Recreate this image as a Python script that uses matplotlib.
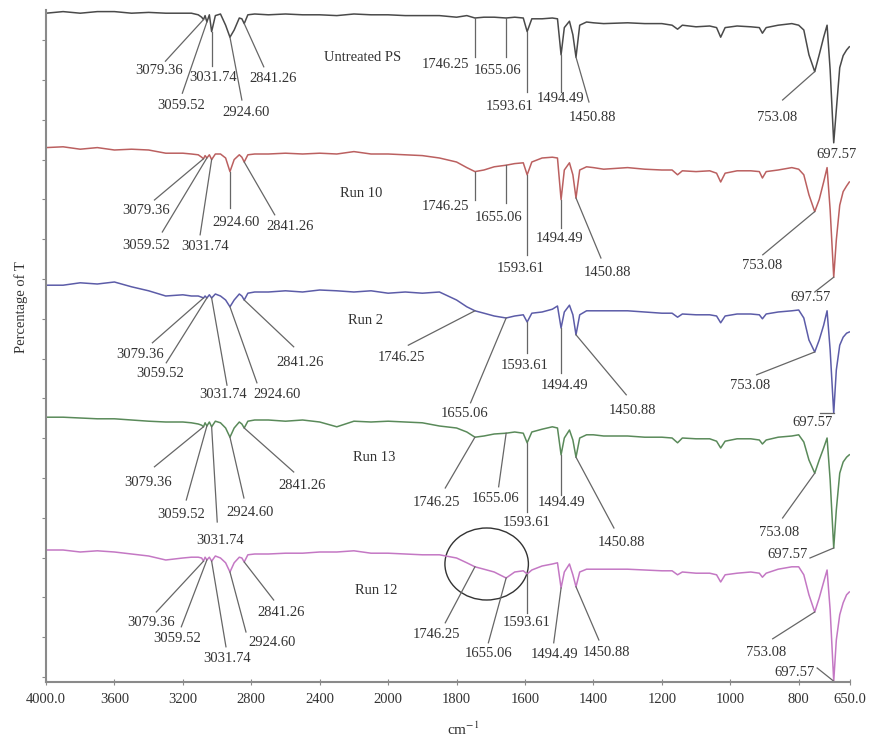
import matplotlib.pyplot as plt
import numpy as np
from matplotlib.patches import Ellipse

plt.rcParams['font.family'] = ['Liberation Serif', 'DejaVu Serif']
plt.rcParams['mathtext.fontset'] = 'stix'

# wavenumber grid (cm-1) shared by all spectra
wavenumber = [4000, 3900, 3800, 3700, 3600, 3500, 3400, 3300, 3200, 3150,
              3110, 3090, 3079.36, 3070, 3059.52, 3045, 3031.74, 3010, 2980, 2950,
              2924.6, 2900, 2870, 2855, 2841.26, 2820, 2780, 2700, 2600, 2500,
              2400, 2300, 2200, 2100, 2000, 1950, 1900, 1850, 1800, 1770,
              1746.25, 1720, 1690, 1655.06, 1630, 1605, 1593.61, 1580, 1550, 1520,
              1505, 1494.49, 1485, 1470, 1460, 1450.88, 1440, 1420, 1400, 1370,
              1300, 1250, 1200, 1170, 1154, 1140, 1100, 1060, 1040, 1028,
              1015, 980, 940, 915, 906, 895, 860, 820, 800, 785,
              770, 753.08, 740, 727, 717, 708, 697.57, 690, 680, 670,
              660, 652]

# stacked transmittance traces (offset per sample)
untreated = [83.6, 83.8, 83.6, 83.8, 83.8, 83.6, 83.7, 83.6, 83.6, 83.6,
             83.4, 83.1, 82.8, 83.3, 82.5, 83.4, 81.3, 83.3, 83.5, 82.1,
             80.6, 81.5, 83.0, 82.9, 82.3, 83.4, 83.5, 83.4, 83.5, 83.4,
             83.4, 83.3, 83.5, 83.4, 83.4, 83.3, 83.3, 83.3, 83.1, 83.3,
             83.0, 83.1, 83.1, 83.0, 83.1, 83.0, 81.3, 82.9, 82.9, 83.0,
             82.9, 78.4, 81.8, 82.6, 80.9, 78.1, 82.1, 82.5, 82.4, 82.3,
             82.4, 82.3, 82.3, 82.1, 81.6, 82.1, 81.9, 82.0, 81.8, 80.6,
             81.8, 82.0, 81.9, 81.8, 81.1, 81.8, 82.1, 82.3, 82.1, 81.5,
             78.4, 76.3, 78.4, 80.6, 82.1, 76.5, 67.4, 71.5, 76.8, 78.3,
             79.0, 79.4]
run10 = [66.8, 66.9, 66.6, 66.8, 66.5, 66.6, 66.5, 66.1, 66.1, 66.0,
         65.9, 65.6, 65.4, 65.8, 65.5, 65.9, 65.3, 66.0, 66.0, 65.5,
         63.8, 65.3, 65.9, 65.6, 65.0, 65.9, 66.0, 66.0, 66.1, 66.0,
         66.1, 66.0, 66.3, 66.0, 66.0, 65.9, 65.8, 65.5, 65.0, 64.3,
         63.8, 64.0, 64.4, 64.6, 64.8, 64.9, 63.4, 65.0, 65.5, 65.6,
         65.5, 60.3, 64.0, 64.9, 63.4, 60.5, 64.0, 64.4, 64.3, 64.1,
         64.3, 64.1, 64.0, 64.0, 63.4, 63.9, 63.8, 63.9, 63.6, 62.5,
         63.6, 63.9, 63.9, 63.8, 63.0, 63.8, 64.0, 64.3, 64.1, 63.4,
         60.9, 58.8, 60.3, 62.5, 64.3, 59.0, 50.6, 55.25, 59.6, 61.3,
         62.0, 62.5]
run2 = [49.6, 49.6, 49.9, 49.75, 50.0, 49.4, 48.9, 48.25, 48.4, 48.25,
        48.25, 48.1, 48.0, 48.25, 48.0, 48.4, 48.0, 48.5, 48.25, 47.75,
        46.9, 47.75, 48.5, 48.25, 47.75, 48.6, 48.75, 48.75, 48.9, 48.75,
        49.0, 48.9, 48.75, 48.9, 48.6, 48.75, 48.6, 48.75, 47.75, 46.9,
        46.4, 46.1, 45.75, 45.5, 45.75, 45.9, 45.0, 46.1, 46.25, 46.6,
        47.0, 44.25, 46.25, 47.1, 45.9, 43.4, 45.9, 46.4, 46.4, 46.4,
        46.4, 46.25, 46.1, 46.1, 45.6, 46.0, 45.9, 45.9, 45.75, 44.9,
        45.75, 46.0, 46.0, 45.9, 45.4, 46.0, 46.25, 46.4, 46.5, 45.5,
        42.75, 41.25, 42.75, 44.6, 46.4, 41.5, 33.6, 39.0, 42.1, 43.1,
        43.6, 43.75]
run13 = [33.1, 33.1, 33.0, 32.9, 32.9, 32.75, 32.6, 32.5, 32.5, 32.4,
         32.25, 32.1, 31.9, 32.4, 32.0, 32.5, 31.9, 32.6, 32.4, 31.75,
         30.6, 31.75, 32.5, 32.25, 31.75, 32.6, 32.75, 32.75, 32.6, 32.75,
         32.5, 31.9, 32.6, 32.5, 32.6, 32.5, 32.4, 32.0, 31.75, 31.25,
         30.6, 30.75, 31.0, 31.1, 31.25, 31.1, 29.9, 31.25, 31.6, 31.9,
         31.75, 28.4, 30.5, 31.5, 30.25, 28.1, 30.5, 30.9, 30.9, 30.75,
         30.75, 30.6, 30.6, 30.5, 29.9, 30.5, 30.4, 30.4, 30.1, 29.25,
         30.1, 30.4, 30.4, 30.25, 29.75, 30.25, 30.6, 30.75, 30.9, 30.0,
         27.75, 26.1, 27.75, 29.25, 30.5, 25.25, 16.75, 21.5, 26.1, 27.5,
         28.1, 28.4]
run12 = [16.5, 16.5, 16.25, 16.4, 16.25, 16.0, 15.75, 15.25, 15.5, 15.6,
         15.6, 15.5, 15.1, 15.6, 15.25, 15.6, 15.1, 15.75, 15.5, 14.9,
         13.75, 14.9, 15.6, 15.5, 15.0, 15.9, 16.0, 16.0, 16.1, 16.1,
         16.25, 16.25, 16.4, 16.1, 16.1, 16.0, 15.9, 15.9, 15.5, 14.9,
         14.4, 14.1, 13.75, 13.0, 13.75, 13.9, 13.5, 14.0, 14.5, 14.75,
         14.9, 11.75, 13.75, 14.75, 13.4, 11.9, 13.75, 14.1, 14.1, 14.1,
         14.1, 14.0, 13.9, 13.9, 13.4, 13.75, 13.6, 13.6, 13.4, 12.5,
         13.4, 13.6, 13.75, 13.6, 13.1, 13.6, 14.1, 14.4, 14.4, 13.4,
         10.9, 8.75, 10.5, 12.5, 14.0, 9.0, 0.1, 5.25, 8.4, 9.9,
         10.9, 11.25]

sample_names = ["Untreated PS", "Run 10", "Run 2", "Run 13", "Run 12"]
tick_values = [4000, 3600, 3200, 2800, 2400, 2000, 1800, 1600, 1400, 1200, 1000, 800, 650]
tick_labels = ["4000.0", "3600", "3200", "2800", "2400", "2000", "1800", "1600",
               "1400", "1200", "1000", "800", "650.0"]

# peak labels: (peak, text x, text y, leader end x, leader end y)
peaks_untreated = [(3079.36, 3337, 76.5, 3302, 77.6), (3059.52, 3209, 72.1, 3203, 73.6),
                   (3031.74, 3023, 75.6, 3031.74, 77.0), (2924.60, 2831, 71.25, 2855, 72.75),
                   (2841.26, 2674, 75.4, 2727, 76.9), (1746.25, 1833, 77.25, 1746.25, 78.1),
                   (1655.06, 1680, 76.4, 1655.06, 78.1), (1593.61, 1645, 71.9, 1593.61, 73.75),
                   (1494.49, 1495, 73.0, 1494.49, 73.75), (1450.88, 1404, 70.6, 1413, 72.5),
                   (753.08, 864, 70.6, 847, 72.75), (697.57, 688, 65.9, 697.57, 67.4)]
peaks_run10 = [(3079.36, 3413, 59.0, 3366, 60.25), (3059.52, 3413, 54.6, 3320, 56.25),
               (3031.74, 3070, 54.5, 3099, 55.9), (2924.60, 2890, 57.4, 2924.6, 59.25),
               (2841.26, 2576, 56.9, 2663, 58.4), (1746.25, 1833, 59.4, 1746.25, 60.25),
               (1655.06, 1677, 58.1, 1655.06, 59.9), (1593.61, 1613, 51.75, 1593.61, 53.4),
               (1494.49, 1498, 55.5, 1494.49, 56.75), (1450.88, 1360, 51.25, 1378, 53.0),
               (753.08, 908, 52.1, 905, 53.4), (697.57, 764, 48.1, 753, 48.75)]
peaks_run2 = [(3079.36, 3453, 41.0, 3378, 42.4), (3059.52, 3331, 38.6, 3297, 39.9),
              (3031.74, 2965, 35.9, 2942, 37.1), (2924.60, 2651, 35.9, 2767, 37.4),
              (2841.26, 2512, 40.0, 2552, 41.9), (1746.25, 1962, 40.6, 1941, 42.1),
              (1655.06, 1777, 33.6, 1759, 34.9), (1593.61, 1601, 39.6, 1593.61, 41.1),
              (1494.49, 1483, 37.1, 1494.49, 38.6), (1450.88, 1287, 33.9, 1304, 35.9),
              (753.08, 943, 37.1, 923, 38.4), (697.57, 761, 32.4, 737, 33.6)]
peaks_run13 = [(3079.36, 3401, 25.0, 3366, 26.9), (3059.52, 3209, 20.9, 3180, 22.75),
               (3031.74, 2983, 17.75, 2999, 20.0), (2924.60, 2808, 21.25, 2843, 23.0),
               (2841.26, 2506, 24.6, 2552, 26.25), (1746.25, 1859, 22.4, 1833, 24.25),
               (1655.06, 1686, 23.0, 1677, 24.4), (1593.61, 1595, 19.9, 1593.61, 21.25),
               (1494.49, 1492, 22.4, 1494.49, 23.4), (1450.88, 1319, 17.5, 1340, 19.25),
               (753.08, 858, 18.75, 847, 20.5), (697.57, 832, 15.9, 767, 15.5)]
peaks_run12 = [(3079.36, 3384, 7.5, 3355, 8.75), (3059.52, 3233, 5.4, 3209, 6.9),
               (3031.74, 2942, 3.0, 2948, 4.4), (2924.60, 2680, 5.0, 2831, 6.25),
               (2841.26, 2628, 8.75, 2669, 10.25), (1746.25, 1859, 5.9, 1833, 7.4),
               (1655.06, 1707, 3.6, 1707, 4.9), (1593.61, 1595, 7.5, 1593.61, 8.6),
               (1494.49, 1513, 3.5, 1516, 4.9), (1450.88, 1363, 3.75, 1384, 5.25),
               (753.08, 896, 3.75, 876, 5.4), (697.57, 811, 1.25, 746, 1.75)]

name_positions = [(2151, 78.1), (2157, 61.1), (2134, 45.25), (2081, 28.1), (2070, 11.5)]
colors = ["#4a4a4a", "#bb6060", "#5c5ca8", "#5a8a5a", "#c478c4"]


def forward(w):
    w = np.asarray(w, dtype=float)
    return np.where(w > 2000, 2000 + (w - 2000) / 2, w)


def inverse(p):
    p = np.asarray(p, dtype=float)
    return np.where(p > 2000, 2000 + (p - 2000) * 2, p)


fig = plt.figure(figsize=(8.76, 7.43), dpi=100)
ax = fig.add_axes([46/876, 61/743, 804/876, 672/743])
ax.set_xscale('function', functions=(forward, inverse))

traces = [untreated, run10, run2, run13, run12]
peak_sets = [peaks_untreated, peaks_run10, peaks_run2, peaks_run13, peaks_run12]
wn = np.array(wavenumber)

for trace, peaks, name, pos, c in zip(traces, peak_sets, sample_names, name_positions, colors):
    ax.plot(wn, trace, color=c, lw=1.1)
    for peak, tx, ty, ex, ey in peaks:
        py = np.interp(peak, wn[::-1], np.array(trace)[::-1])
        ax.plot([peak, ex], [py, ey], color="#666666", lw=0.9)
        ax.text(tx, ty, f"{peak:.2f}", ha="center", va="center", fontsize=10.5, color="#333333")
    ax.text(pos[0], pos[1], name, ha="center", va="center", fontsize=10.5, color="#333333")

ax.add_patch(Ellipse((1712, 14.75), width=244, height=9, fill=False, ec="#333333", lw=1))

ax.set_xlim(4000, 650)
ax.set_ylim(0, 84)
ax.set_xticks(tick_values)
ax.set_xticklabels(tick_labels)
ax.set_yticks(np.arange(0.625, 82, 4.975))
ax.set_yticklabels([])
ax.tick_params(axis="x", direction="inout", length=4, color="#8a8a8a", pad=6, labelsize=10.5, labelcolor="#333333")
ax.tick_params(axis="y", direction="out", length=3, color="#8a8a8a")
ax.minorticks_off()

for s in ["top", "right"]:
    ax.spines[s].set_visible(False)
for s in ["left", "bottom"]:
    ax.spines[s].set_color("#8a8a8a")
    ax.spines[s].set_linewidth(1.5)

ax.set_xlabel("cm$^{-1}$", fontsize=11, color="#333333")
ax.xaxis.set_label_coords(0.519, -0.058)
ax.set_ylabel("Percentage of T", fontsize=10.5, color="#333333")
ax.yaxis.set_label_coords(-0.022, 0.558)

fig.savefig("out.png", dpi=100)
